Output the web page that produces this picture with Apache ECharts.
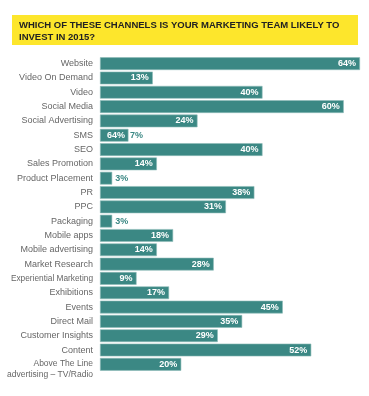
<!DOCTYPE html>
<html><head><meta charset="utf-8">
<script src="https://cdn.jsdelivr.net/npm/echarts@6/dist/echarts.min.js"></script>
<style>html,body{margin:0;padding:0;background:#fff}#c{width:369px;height:396px}</style>
</head><body><div id="c"></div>
<script>
var titleLines = ['WHICH OF THESE CHANNELS IS YOUR MARKETING TEAM LIKELY TO', 'INVEST IN 2015?'];
var categories = ['Website','Video On Demand','Video','Social Media','Social Advertising','SMS','SEO','Sales Promotion','Product Placement','PR','PPC','Packaging','Mobile apps','Mobile advertising','Market Research','Experiential Marketing','Exhibitions','Events','Direct Mail','Customer Insights','Content','Above The Line\nadvertising – TV/Radio'];
var values = [64,13,40,60,24,7,40,14,3,38,31,3,18,14,28,9,17,45,35,29,52,20];
var valueLabels = ['64%','13%','40%','60%','24%','7%','40%','14%','3%','38%','31%','3%','18%','14%','28%','9%','17%','45%','35%','29%','52%','20%'];
var smsExtraLabel = '64%';
var xMax = 64;

var teal = '#3b8884';
var chart = echarts.init(document.getElementById('c'));
var catData = categories.map(function(c, i){
  if (c.indexOf('\n') >= 0) {
    return {value: c, textStyle: {verticalAlign: 'top', lineHeight: 11, padding: [-6, 0, 0, 0], fontSize: 8.5}};
  }
  if (c === 'Experiential Marketing') {
    return {value: c, textStyle: {fontSize: 8.3}};
  }
  return c;
});
var barData = values.map(function(v, i){
  var item = {value: v};
  if (categories[i] === 'SMS') {
    item.label = {position: 'insideLeft', distance: 7,
      formatter: '{w|' + smsExtraLabel + '}{t|' + valueLabels[i] + '}',
      rich: {w: {color: '#fff', fontWeight: 'bold', fontSize: 9, fontFamily: 'Liberation Sans'},
             t: {color: teal, fontWeight: 'bold', fontSize: 9, fontFamily: 'Liberation Sans', padding:[0,0,0,5]}}};
  } else if (v < 5) {
    item.label = {position: 'right', color: teal, distance: 3};
  }
  return item;
});
chart.setOption({
  animation: false,
  graphic: [
    {type: 'rect', shape: {x: 12, y: 15, width: 346, height: 30}, style: {fill: '#fde62c'}},
    {type: 'text', left: 19, top: 20, style: {text: titleLines.join('\n'), font: 'bold 9.5px "Liberation Sans"', fill: '#222', lineHeight: 11.5}}
  ],
  grid: {left: 100, right: 9, top: 56.5, bottom: 24.5, containLabel: false},
  xAxis: {type: 'value', min: 0, max: xMax, show: false},
  yAxis: {type: 'category', inverse: true, data: catData,
    axisLine: {show: false}, axisTick: {show: false},
    axisLabel: {margin: 7, color: '#666', fontSize: 9, fontFamily: 'Liberation Sans', interval: 0}},
  series: [{
    type: 'bar', data: barData, barCategoryGap: '11%',
    itemStyle: {color: teal, borderColor: '#8fbcb9', borderWidth: 0.6},
    label: {show: true, position: 'insideRight', distance: 4, color: '#fff', fontWeight: 'bold', fontSize: 9, fontFamily: 'Liberation Sans',
      formatter: function(p){ return valueLabels[p.dataIndex]; }}
  }]
});
</script></body></html>
